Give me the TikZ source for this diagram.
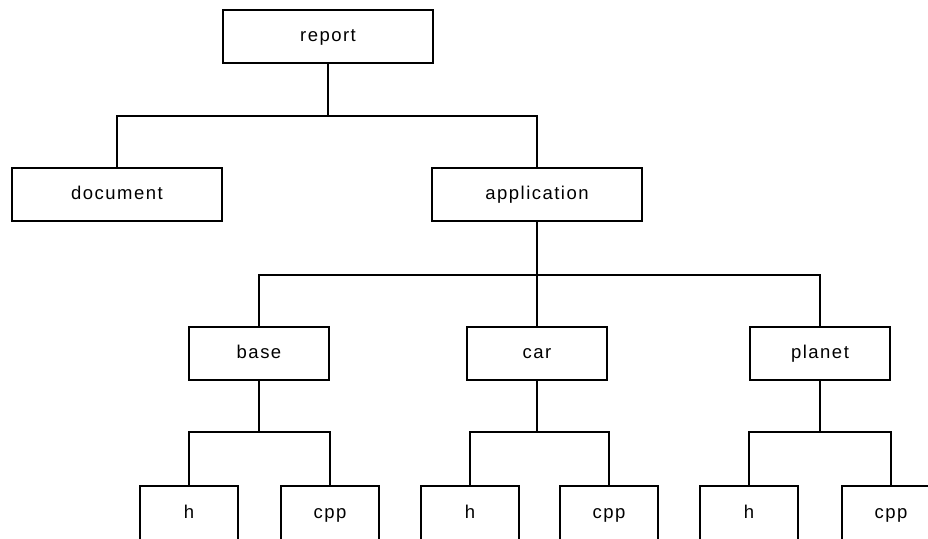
\documentclass[tikz,border=0pt]{standalone}
\usepackage{fontspec}
\newfontfamily\labfont[LetterSpace=8]{Liberation Sans}
\begin{document}
\begin{tikzpicture}[x=1pt,y=-1pt,
  box/.style={draw=black,line width=1.8pt,rectangle,inner sep=0pt,font=\labfont\fontsize{18.5}{20}\selectfont,text height=9.6pt,text depth=0pt,minimum height=53pt},
  big/.style={box,minimum width=210pt},
  mid/.style={box,minimum width=140pt},
  leaf/.style={box,minimum width=98pt,minimum height=56pt},
  conn/.style={line width=1.8pt}]
\useasboundingbox (0,0) rectangle (928,538);
\node[big] (report) at (328,36.5) {report};
\node[big] (document) at (117,194.5) {document};
\node[big] (application) at (537,194.5) {application};
\node[mid] (base) at (259,353.5) {base};
\node[mid] (car) at (537,353.5) {car};
\node[mid] (planet) at (820,353.5) {planet};
\node[leaf] (h1) at (189,514) {h};
\node[leaf] (c1) at (330,514) {cpp};
\node[leaf] (h2) at (470,514) {h};
\node[leaf] (c2) at (609,514) {cpp};
\node[leaf] (h3) at (749,514) {h};
\node[leaf] (c3) at (891,514) {cpp};
\coordinate (j0) at (report.south |- 0,116);
\coordinate (j1) at (application.south |- 0,275);
\coordinate (j2) at (base.south |- 0,432);
\coordinate (j3) at (car.south |- 0,432);
\coordinate (j4) at (planet.south |- 0,432);
\draw[conn] (report.south) -- (j0) -| (document.north);
\draw[conn] (j0) -| (application.north);
\draw[conn] (application.south) -- (j1) -| (base.north);
\draw[conn] (j1) -- (car.north);
\draw[conn] (j1) -| (planet.north);
\draw[conn] (base.south) -- (j2) -| (h1.north);
\draw[conn] (j2) -| (c1.north);
\draw[conn] (car.south) -- (j3) -| (h2.north);
\draw[conn] (j3) -| (c2.north);
\draw[conn] (planet.south) -- (j4) -| (h3.north);
\draw[conn] (j4) -| (c3.north);
\end{tikzpicture}
\end{document}
